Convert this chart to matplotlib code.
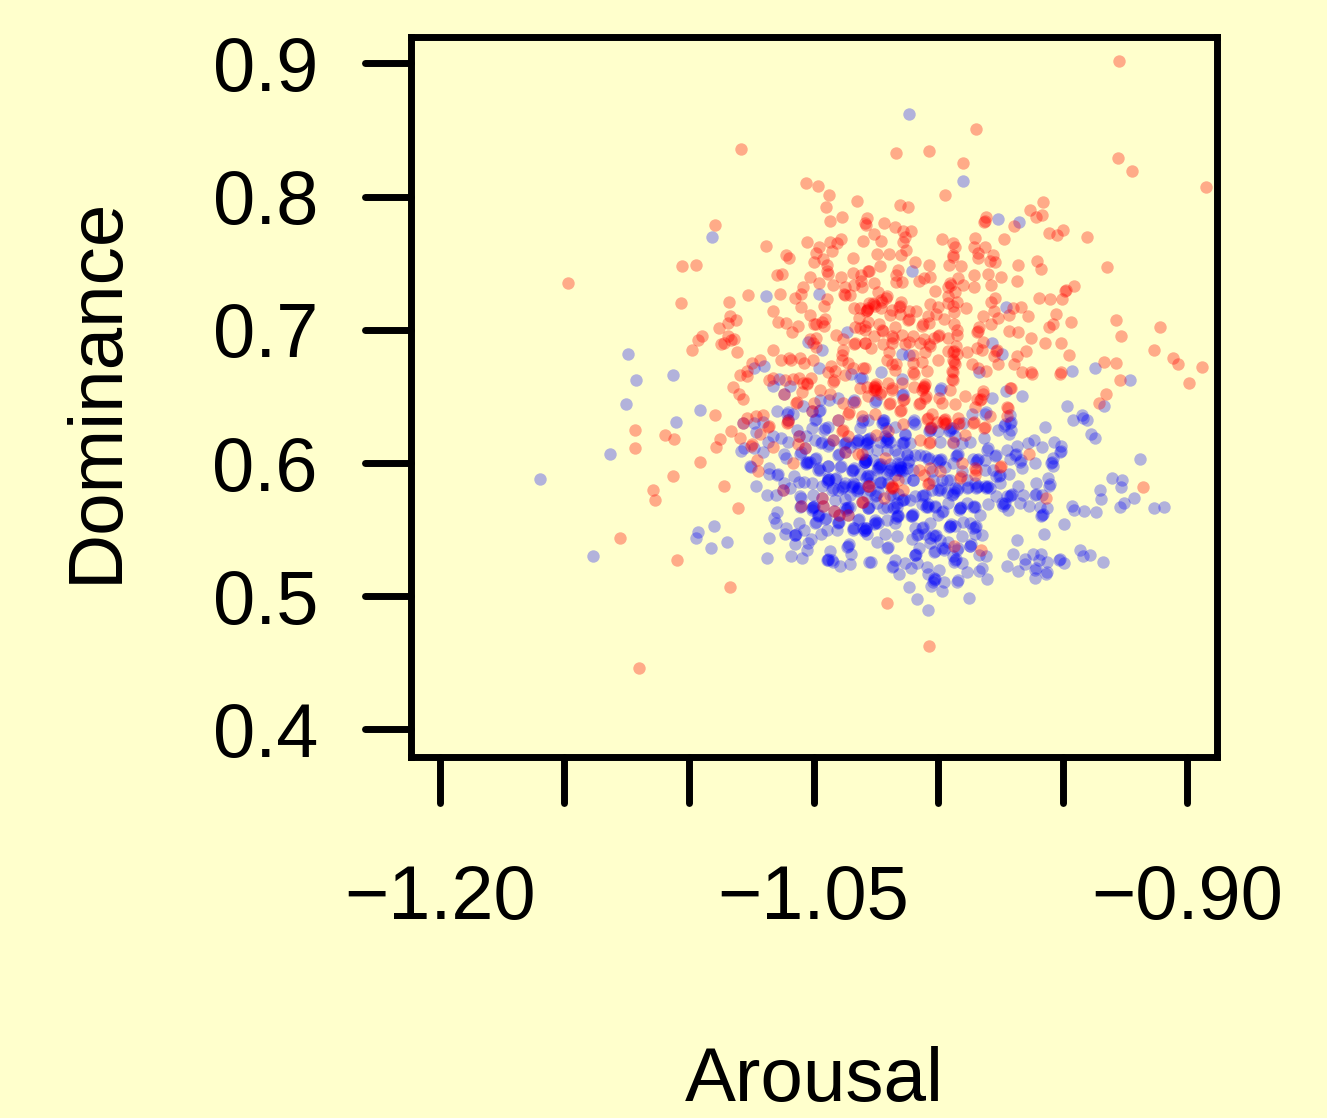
import numpy as np
import matplotlib
matplotlib.use("Agg")
import matplotlib.pyplot as plt
from matplotlib.markers import MarkerStyle, TICKDOWN, TICKLEFT

plt.rcParams['font.family'] = ['Liberation Sans', 'DejaVu Sans']

x_ticks = [-1.20, -1.15, -1.10, -1.05, -1.00, -0.95, -0.90]
x_labels = ['\u22121.20', '', '', '\u22121.05', '', '', '\u22120.90']
y_ticks = [0.4, 0.5, 0.6, 0.7, 0.8, 0.9]
y_labels = ['0.4', '0.5', '0.6', '0.7', '0.8', '0.9']

# (arousal, dominance)
red_points = [
    (-1.079,.836),(-1.053,.810),(-1.0481,.808),(-1.0438,.801),(-1.0327,.797),(-1.0449,.792),(-1.0386,.785),
    (-1.0434,.782),(-1.0287,.784),(-1.029,.779),(-1.0293,.780),(-1.0897,.779),(-1.069,.763),(-1.0525,.766),
    (-1.0434,.766),(-1.0391,.768),(-1.0407,.765),(-1.0302,.767),(-1.0477,.762),(-1.0488,.758),(-1.0427,.759),
    (-1.0611,.756),(-1.06,.754),(-1.0342,.754),(-1.0496,.751),(-1.0461,.753),(-1.0445,.749),(-1.0447,.744),
    (-1.0441,.742),(-1.1027,.748),(-1.0972,.749),(-1.1486,.735),(-1.0628,.742),(-1.0647,.741),(-1.0514,.74),
    (-1.0388,.74),(-1.0343,.743),(-1.0308,.741),(-1.028,.744),(-1.0476,.735),(-1.0421,.734),(-1.0336,.734),
    (-1.0311,.737),(-1.0304,.732),(-1.0541,.732),(-1.055,.727),(-1.0576,.724),(-1.0635,.727),(-1.0763,.726),
    (-1.0372,.732),(-1.0376,.727),(-1.0372,.726),(-1.0354,.726),(-1.0445,.723),(-1.084,.721),(-1.103,.72),
    (-1.0459,.718),(-1.0552,.717),(-1.0663,.714),(-1.0514,.711),(-1.0336,.716),(-1.0287,.715),(-1.0283,.716),
    (-1.029,.714),(-1.0314,.716),(-1.0276,.72),(-1.0836,.71),(-1.0812,.707),(-1.0844,.705),(-1.0643,.706),
    (-1.0609,.705),(-1.0561,.703),(-1.0585,.698),(-1.0878,.701),(-1.0454,.708),(-1.0467,.706),(-1.0498,.704),
    (-1.0458,.703),(-1.049,.704),(-1.0316,.709),(-1.0334,.702),(-1.0314,.701),(-1.0293,.703),(-1.0293,.7),
    (-1.0947,.695),(-1.0963,.692),(-1.0986,.685),(-1.0842,.695),(-1.0833,.692),(-1.082,.693),(-1.0873,.689),
    (-1.0858,.69),(-1.0808,.683),(-1.0662,.685),(-1.041,.696),(-1.0383,.693),(-1.0336,.689),(-1.0332,.690),
    (-1.0293,.69),(-1.0488,.694),(-1.0514,.693),(-1.0504,.69),(-1.0488,.687),(-1.0383,.685),(-1.0387,.681),
    (-1.0387,.677),(-1.036,.675),(-1.0631,.677),(-1.0597,.679),(-1.0592,.677),(-1.0555,.679),(-1.0537,.675),
    (-1.0504,.677),(-1.0746,.675),(-1.0715,.677),(-1.0765,.669),(-1.0795,.666),(-1.0765,.665),(-1.0429,.673),
    (-1.0441,.668),(-1.0414,.669),(-1.0374,.666),(-1.034,.671),(-1.03,.671),(-1.0512,.664),(-1.0557,.664),
    (-1.0584,.663),(-1.0615,.662),(-1.0664,.664),(-1.0679,.662),(-1.0528,.659),(-1.0525,.660),(-1.0544,.66),
    (-1.0419,.662),(-1.0314,.656),(-1.0825,.657),
    (-.9274,.902),(-.9848,.851),(-1.0168,.833),(-1.0035,.834),(-.9901,.825),(-.9278,.829),(-.9221,.819),
    (-.8923,.807),(-.9972,.801),(-1.0151,.794),(-1.012,.792),(-.9577,.796),(-.963,.79),(-.9605,.785),
    (-.9581,.786),(-.9807,.785),(-.9811,.782),(-.9815,.781),(-.9696,.778),(-1.0218,.78),(-1.0174,.777),
    (-1.0142,.774),(-1.0108,.774),(-1.0257,.772),(-1.0131,.77),(-1.023,.767),(-1.0142,.766),(-.9984,.768),
    (-.9941,.765),(-.9931,.762),(-.985,.769),(-.9855,.762),(-.9811,.762),(-.9736,.768),(-.9555,.773),
    (-.9522,.771),(-.9499,.775),(-.94,.77),(-1.0127,.76),(-1.0246,.757),(-1.0197,.757),(-1.015,.756),
    (-.9938,.756),(-.9941,.755),(-.9838,.758),(-.9839,.754),(-.978,.756),(-.9791,.752),(-.9771,.751),
    (-1.0091,.751),(-1.0037,.749),(-.9954,.749),(-1.0235,.748),(-.9909,.748),(-.9677,.749),(-.9602,.752),
    (-.9586,.746),(-.932,.747),(-1.0277,.744),(-1.0159,.745),(-1.0168,.741),(-.9855,.741),(-.9798,.742),
    (-.9749,.74),(-1.0031,.74),(-1.0055,.739),(-1.0077,.737),(-.9919,.739),(-.9684,.737),(-1.0168,.736),
    (-1.0143,.736),(-1.0259,.735),(-.9952,.735),(-.9948,.734),(-.9958,.732),(-.9901,.734),(-.9855,.732),
    (-.9788,.734),(-.9455,.733),(-.949,.729),(-.9486,.730),(-1.0012,.729),(-.9931,.728),(-1.0241,.728),
    (-1.0206,.725),(-1.021,.724),(-.9503,.723),(-.9594,.724),(-.9549,.723),(-.9958,.725),(-.9773,.724),
    (-1.023,.722),(-1.0226,.721),(-1.0257,.719),(-1.0253,.718),(-1.0261,.72),(-1.0286,.715),(-1.0148,.721),
    (-.9925,.721),(-.9962,.72),(-.9788,.721),(-1.0155,.717),(-1.0151,.718),(-1.0031,.719),(-1.0002,.717),
    (-.9938,.718),(-.9889,.716),(-.9666,.717),(-.97,.716),(-.9777,.714),(-1.023,.716),(-1.0183,.715),
    (-1.0118,.714),(-1.0088,.714),(-1.0152,.712),(-1.0192,.711),(-.9934,.713),(-1.0008,.712),(-1.0039,.71),
    (-.982,.71),(-.9717,.711),(-.9761,.709),(-.964,.71),(-.9526,.712),(-1.0119,.707),(-1.0116,.708),
    (-1.028,.706),(-.9978,.708),(-1.0036,.705),(-1.0065,.703),(-1.0061,.704),(-.9788,.704),(-.9467,.706),
    (-.9285,.707),(-.9107,.702),(-.9555,.702),(-.9539,.704),(-1.0239,.704),(-1.0172,.702),(-.9934,.704),
    (-.9834,.702),(-.9842,.698),(-.9838,.699),(-.9925,.7),(-.9925,.696),(-.9717,.699),(-.9678,.698),
    (-1.0226,.7),(-1.0222,.699),(-1.0143,.696),(-1.0099,.695),(-1.0183,.695),(-1.0179,.694),(-1.0259,.695),
    (-.9958,.694),(-.9998,.696),(-1.0002,.695),(-1.0016,.694),(-1.0056,.693),(-.9266,.695),(-.9625,.694),
    (-1.0294,.69),(-1.0269,.686),(-1.0219,.689),(-1.0115,.691),(-1.0132,.689),(-1.0072,.69),(-1.0035,.689),
    (-1.0031,.688),(-1.0186,.69),(-.982,.691),(-.957,.69),(-.9507,.69),(-1.0195,.683),(-1.0052,.683),
    (-.9927,.688),(-.9958,.684),(-.9941,.683),(-.9937,.684),(-.9925,.682),(-.9885,.683),(-.9844,.686),
    (-.9824,.685),(-.9768,.684),(-.9764,.685),(-.9645,.684),(-.9132,.685),(-.9476,.681),(-.9681,.68),
    (-.9775,.68),(-1.0099,.681),(-1.0206,.677),(-1.0065,.676),(-1.0002,.677),(-.9938,.677),(-.9934,.676),
    (-1.0168,.674),(-1.0186,.674),(-1.0099,.675),(-.9931,.674),(-.9862,.674),(-.9694,.674),(-.976,.674),
    (-.9333,.676),(-.9286,.675),(-.9055,.679),(-.9037,.674),(-.8942,.672),(-1.0172,.67),(-1.0099,.668),
    (-1.0095,.667),(-1.0045,.669),(-.9945,.669),(-.9941,.668),(-.984,.671),(-.9808,.669),(-.9664,.668),
    (-.9626,.668),(-.9623,.667),(-.951,.667),(-.9508,.668),(-1.0293,.671),(-1.0199,.66),(-.9269,.662),
    (-.8994,.66),(-1.0146,.66),(-1.0253,.658),(-1.0249,.659),(-1.0257,.657),(-1.0056,.658),(-1.0052,.659),
    (-1.0096,.657),(-.9945,.663),(-.9941,.662),(-.9711,.656),(-1.0183,.656),(-.9818,.654),
    (-1.0798,.652),(-1.0783,.648),(-1.0896,.636),(-1.1217,.625),(-1.1218,.611),(-1.1097,.621),(-1.1061,.618),
    (-1.0833,.624),(-1.0874,.618),(-1.0891,.612),(-1.0795,.619),(-1.0955,.601),(-1.1063,.59),(-1.1144,.58),
    (-1.1138,.572),(-1.0858,.583),(-1.0802,.566),(-1.1277,.544),(-1.1048,.527),(-1.0836,.507),(-1.1201,.446),
    (-1.0769,.634),(-1.0731,.635),(-1.0704,.636),(-1.0715,.622),(-1.0682,.627),(-1.0678,.628),(-1.0749,.613),
    (-1.0745,.614),(-1.0726,.602),(-1.0723,.594),(-1.0662,.612),(-1.0581,.6),(-1.0561,.614),(-1.0548,.653),
    (-1.0473,.655),(-1.0434,.652),(-1.042,.661),(-1.0571,.645),(-1.0567,.646),(-1.0498,.645),(-1.0383,.645),
    (-1.036,.637),(-1.0356,.638),(-1.0333,.646),(-1.0608,.63),(-1.0604,.631),(-1.0387,.624),(-1.0383,.625),
    (-1.036,.62),(-1.032,.607),(-1.0617,.652),(-1.0508,.639),(-1.0782,.63),(-1.0601,.632),(-1.0557,.62),
    (-1.0534,.611),(-1.0624,.58),(-1.055,.568),(-1.0467,.574),(-1.0463,.568),(-1.0417,.564),(-1.0398,.561),
    (-1.0362,.561),(-1.0304,.571),(-1.0374,.608),(-1.028,.583),(-1.0421,.617),(-1.04,.632),
    (-.9709,.656),(-.982,.652),(-.9844,.648),(-.9831,.647),(-.9827,.648),(-.9891,.65),(-.9931,.644),(-.9985,.645),
    (-.9998,.649),(-.9325,.652),(-.9354,.645),(-1.0036,.463),(-1.0206,.495),(-.9566,.574),(-.9636,.607),
    (-.9176,.582),(-.9724,.635),(-.9724,.642),(-.972,.641),(-.9851,.642),(-.9791,.635),(-.9952,.655),(-1.0059,.656),
    (-1.0055,.657),(-1.0063,.655),(-1.0253,.656),(-1.0249,.655),(-1.0257,.655),(-1.0233,.652),(-1.023,.653),
    (-1.0286,.657),(-1.0186,.655),(-1.028,.65),(-1.0139,.647),(-1.0135,.648),(-1.0052,.649),(-1.0048,.65),
    (-1.0025,.637),(-1.0045,.633),(-1.0041,.634),(-.9978,.632),(-.9974,.633),(-.9982,.631),(-.9972,.629),
    (-.9968,.63),(-1.0005,.631),(-.9918,.634),(-.9918,.629),(-.9914,.63),(-.9858,.63),(-.9854,.631),(-.9817,.626),
    (-.9813,.627),(-1.0032,.626),(-1.0028,.627),(-1.0139,.629),(-1.0253,.637),(-1.0306,.635),(-1.0195,.644),
    (-1.0191,.645),(-1.0152,.639),(-1.0148,.64),(-1.0075,.644),(-1.0071,.645),(-1.0249,.621),(-1.0199,.624),
    (-1.0038,.615),(-1.0034,.616),(-1.0072,.617),(-.9938,.616),(-.9891,.621),(-1.0213,.604),(-1.0306,.607),
    (-.9905,.6),(-.9751,.597),(-.9747,.598),(-.9851,.596),(-.9847,.595),(-.9851,.591),(-.9911,.589),(-.9907,.59),
    (-1.0032,.596),(-.9994,.594),(-1.0075,.595),(-1.0056,.591),(-1.0159,.587),(-1.0186,.582),(-1.0183,.583),
    (-1.019,.581),(-1.0182,.581),(-1.0139,.58),(-1.0276,.583),(-1.0039,.584),(-1.0035,.585),(-1.0217,.574),
    (-1.0302,.571),(-.9935,.538),(-.9828,.535),
]

blue_points = [
    (-1.0907,.77),(-1.0692,.725),(-1.0477,.727),(-1.0366,.698),(-1.0524,.691),(-1.0465,.685),(-1.1245,.682),
    (-1.1213,.662),(-1.1065,.666),(-1.0737,.671),(-1.0698,.673),(-1.0477,.671),(-1.0637,.663),(-1.0663,.658),
    (-1.0595,.658),(-1.0351,.667),(-1.0314,.664),
    (-1.0116,.862),(-.9899,.812),(-.976,.783),(-.9676,.781),(-1.0106,.744),(-.9729,.717),(-.9783,.69),
    (-.9744,.682),(-1.0146,.682),(-1.0115,.681),(-.9834,.668),(-.9463,.669),(-.9371,.671),(-.9231,.662),
    (-1.0143,.663),(-1.023,.668),(-1.0306,.664),
    (-1.1253,.644),(-1.0955,.64),(-1.1052,.631),(-1.1318,.607),(-1.1599,.588),(-1.0731,.583),(-1.0687,.576),
    (-1.0651,.576),(-1.0617,.585),(-1.0595,.581),(-1.058,.59),(-1.0557,.586),(-1.0538,.586),(-1.0508,.585),
    (-1.0504,.576),(-1.0555,.575),(-1.0551,.574),(-1.0555,.567),(-1.0648,.563),(-1.0659,.559),(-1.065,.555),
    (-1.0612,.551),(-1.0615,.547),(-1.0575,.546),(-1.0571,.547),(-1.0537,.55),(-1.0557,.555),(-1.0575,.539),
    (-1.0512,.543),(-1.0521,.54),(-1.0528,.535),(-1.0548,.529),(-1.0592,.53),(-1.0686,.529),(-1.0679,.544),
    (-1.09,.553),(-1.0964,.548),(-1.0972,.544),(-1.0913,.536),(-1.0849,.541),(-1.1384,.53),(-1.0677,.596),
    (-1.0677,.592),(-1.0646,.591),(-1.0642,.592),(-1.0755,.598),(-1.0751,.597),(-1.0791,.609),(-1.0778,.611),
    (-1.0738,.611),(-1.0702,.608),(-1.0619,.607),(-1.0612,.604),(-1.0662,.62),(-1.0682,.616),(-1.0601,.616),
    (-1.0631,.619),(-1.0729,.623),(-1.0738,.63),(-1.0702,.631),(-1.0648,.639),(-1.0608,.637),(-1.0604,.638),
    (-1.0581,.637),(-1.0541,.643),(-1.0565,.625),(-1.053,.62),(-1.0508,.626),(-1.0494,.632),(-1.049,.633),
    (-1.0477,.639),(-1.0473,.64),(-1.0474,.647),(-1.0438,.647),(-1.0403,.649),(-1.034,.646),(-1.0336,.647),
    (-1.0441,.627),(-1.0458,.625),(-1.0454,.626),(-1.0494,.617),(-1.0468,.615),(-1.0464,.616),(-1.0441,.613),
    (-1.0437,.614),(-1.0555,.607),(-1.0551,.608),(-1.0528,.6),(-1.0524,.601),(-1.0532,.599),(-1.0494,.603),
    (-1.049,.604),(-1.0481,.595),(-1.0477,.596),(-1.0441,.598),(-1.0394,.597),(-1.039,.598),(-1.0401,.606),
    (-1.0397,.607),(-1.034,.595),(-1.0336,.596),(-1.0344,.594),(-1.0374,.615),(-1.037,.616),(-1.0378,.614),
    (-1.0327,.616),(-1.0323,.617),(-1.0331,.615),(-1.0293,.601),(-1.0289,.602),(-1.0297,.6),(-1.0293,.603),
    (-1.0287,.617),(-1.0283,.618),(-1.0441,.587),(-1.0437,.588),(-1.0445,.586),(-1.0441,.589),(-1.0414,.588),
    (-1.041,.589),(-1.0467,.583),(-1.0427,.58),(-1.0423,.581),(-1.038,.582),(-1.0376,.583),(-1.0384,.581),
    (-1.034,.583),(-1.0336,.584),(-1.0344,.582),(-1.032,.58),(-1.0316,.581),(-1.0324,.579),(-1.0287,.59),
    (-1.0283,.591),(-1.0291,.589),(-1.0414,.572),(-1.0374,.573),(-1.0501,.567),(-1.0497,.568),(-1.0505,.566),
    (-1.0481,.56),(-1.0477,.561),(-1.0454,.558),(-1.045,.559),(-1.0494,.555),(-1.049,.556),(-1.0468,.547),
    (-1.0447,.55),(-1.0407,.55),(-1.0401,.555),(-1.0397,.556),(-1.0367,.566),(-1.0363,.567),(-1.0371,.565),
    (-1.034,.55),(-1.0336,.551),(-1.032,.557),(-1.0316,.558),(-1.0293,.55),(-1.0289,.551),(-1.0297,.549),
    (-1.0363,.538),(-1.0359,.539),(-1.0348,.532),(-1.0433,.534),(-1.0446,.527),(-1.0442,.528),(-1.0421,.526),
    (-1.0395,.523),(-1.0352,.524),(-1.0276,.526),(-1.0314,.626),(-1.03,.632),
    (-1.0617,.652),(-1.0508,.639),(-1.0782,.63),(-1.0601,.632),(-1.0557,.62),(-1.0534,.611),(-1.0624,.58),
    (-1.055,.568),(-1.0467,.574),(-1.0463,.568),(-1.0417,.564),(-1.0398,.561),(-1.0362,.561),(-1.0304,.571),
    (-1.0374,.608),(-1.028,.583),(-1.0421,.617),(-1.04,.632),
    (-.9662,.65),(-.9784,.649),(-.9728,.654),(-.9483,.643),(-.9332,.643),(-.9459,.632),(-.9424,.636),
    (-.94,.632),(-.9416,.634),(-.957,.627),(-.9384,.622),(-.9371,.619),(-.9189,.603),(-.9301,.589),
    (-.9261,.587),(-.9265,.582),(-.9349,.58),(-.9344,.573),(-.9213,.574),(-.9255,.57),(-.9269,.567),
    (-.9131,.566),(-.9092,.567),(-.9463,.568),(-.9454,.565),(-.9415,.564),(-.9367,.563),(-.9495,.554),
    (-.9575,.547),(-.9682,.542),(-.97,.532),(-.962,.532),(-.9586,.532),(-.9594,.527),(-.9562,.526),
    (-.9649,.528),(-.9652,.524),(-.9725,.523),(-.9678,.519),(-.961,.52),(-.9606,.521),(-.9612,.514),
    (-.9566,.517),(-.9562,.518),(-.9514,.527),(-.951,.528),(-.9494,.525),(-.9431,.535),(-.942,.53),
    (-.9388,.531),(-.9336,.526),(-.9533,.616),(-.9506,.613),(-.9512,.608),(-.9508,.609),(-.9581,.612),
    (-.9539,.604),(-.9547,.6),(-.9543,.601),(-.9537,.598),(-.9611,.6),(-.9613,.617),(-.964,.615),
    (-.9681,.613),(-.9723,.61),(-.9691,.606),(-.9687,.607),(-.9711,.603),(-.9671,.601),(-.9667,.602),
    (-.9661,.596),(-.9559,.589),(-.9555,.583),(-.9551,.584),(-.9606,.585),(-.968,.583),(-.9657,.576),
    (-.9707,.576),(-.9703,.577),(-.9724,.575),(-.961,.576),(-.9606,.577),(-.9583,.576),(-.9737,.569),
    (-.9733,.57),(-.9741,.568),(-.972,.565),(-.967,.57),(-.9634,.568),(-.959,.567),(-.9562,.566),
    (-.9583,.561),(-.9579,.562),(-.9587,.56),(-.9717,.592),(-.9757,.59),(-.9753,.591),(-.9767,.59),
    (-.9753,.585),(-.9767,.575),(-.9804,.582),(-.98,.583),(-.9808,.581),(-.98,.569),(-.9831,.561),
    (-.9824,.546),(-.9851,.552),(-.9847,.553),(-.9858,.567),(-.9854,.568),(-.9851,.547),(-.9871,.538),
    (-.9867,.539),(-.9807,.53),(-.9835,.531),(-.9824,.521),(-.9834,.519),(-.9804,.513),(-.9882,.518),
    (-.9877,.499),(-.9922,.511),(-.9918,.512),(-.9905,.525),(-.9931,.527),(-.9927,.528),(-.9935,.526),
    (-.9925,.535),(-.9921,.536),(-.9905,.545),(-.9952,.553),(-.9948,.554),(-.9956,.552),(-.9911,.566),
    (-.9907,.567),(-.9915,.565),(-.9938,.577),(-.9934,.578),(-.9942,.576),(-.9985,.563),(-.9981,.564),
    (-1.0012,.568),(-1.0045,.568),(-1.0041,.569),(-1.0049,.567),(-1.0065,.575),(-1.0061,.576),(-.9992,.58),
    (-.9988,.581),(-.9885,.581),(-.9881,.582),(-.9844,.582),(-.984,.583),(-.9848,.581),(-.9925,.58),
    (-.9921,.581),(-.9992,.602),(-.9988,.603),(-.9996,.601),(-1.0039,.603),(-1.0035,.604),(-.9925,.606),
    (-.9921,.607),(-.9929,.605),(-.9844,.602),(-.984,.603),(-.9848,.601),(-.9811,.595),(-.9771,.605),
    (-.9767,.606),(-.9804,.61),(-.98,.611),(-.9817,.619),(-.9871,.616),(-.9938,.615),(-.9992,.616),
    (-1.0139,.615),(-1.0135,.616),(-1.0206,.617),(-1.0202,.618),(-1.021,.616),(-1.0206,.619),(-1.0219,.631),
    (-1.0215,.632),(-1.0223,.63),(-1.028,.632),(-1.0286,.615),(-1.0282,.616),(-1.029,.614),(-1.0293,.601),
    (-1.0289,.602),(-1.0239,.597),(-1.0235,.598),(-1.0243,.596),(-1.0239,.599),(-1.0152,.596),(-1.0148,.597),
    (-1.0156,.595),(-1.0152,.598),(-1.0148,.595),(-1.0119,.601),(-1.0115,.602),(-1.0193,.595),(-1.0189,.596),
    (-1.0197,.594),(-1.0099,.587),(-1.0233,.585),(-1.0229,.586),(-1.0276,.585),(-1.0253,.575),(-1.0249,.576),
    (-1.028,.566),(-1.0276,.567),(-1.0219,.566),(-1.0179,.566),(-1.0175,.567),(-1.0139,.572),(-1.0135,.573),
    (-1.0105,.561),(-1.0101,.562),(-1.0109,.56),(-1.0166,.56),(-1.0162,.561),(-1.017,.559),(-1.0253,.555),
    (-1.0249,.556),(-1.0257,.554),(-1.0293,.55),(-1.0289,.551),(-1.0213,.547),(-1.0166,.545),(-1.0246,.541),
    (-1.0206,.536),(-1.0202,.537),(-1.0085,.546),(-1.0081,.547),(-1.0065,.551),(-1.0061,.552),(-1.0032,.555),
    (-1.0012,.545),(-1.0008,.546),(-1.0105,.543),(-1.0075,.536),(-1.0092,.531),(-1.0088,.532),(-1.0018,.533),
    (-1.0014,.534),(-.9978,.535),(-.9974,.536),(-1.0132,.525),(-1.0172,.527),(-1.0186,.522),(-1.0182,.523),
    (-1.0269,.526),(-1.0156,.517),(-1.0108,.521),(-1.0083,.525),(-1.0045,.522),(-1.0115,.507),(-1.0085,.498),
    (-1.004,.49),(-1.0016,.512),(-1.0012,.513),(-1.002,.511),(-1.0016,.514),(-1.0028,.508),(-.9984,.504),
    (-.9978,.511),(-.9998,.52),(-1.0039,.517),(-.9737,.628),(-.9733,.629),(-.9711,.63),(-.9707,.631),
    (-.9707,.625),(-.976,.625),(-.9715,.622),(-.9711,.636),(-.9811,.637),(-.9807,.638),(-.9862,.637),
    (-.9898,.63),(-.9952,.625),(-.9948,.626),(-.9956,.624),(-1.0032,.625),(-1.0028,.626),(-1.0036,.624),
    (-1.0099,.631),(-1.0095,.632),(-1.0146,.651),(-1.0142,.652),(-1.0253,.646),(-1.0249,.647),(-.9992,.655),
    (-.9988,.656),(-1.0132,.622),(-1.0306,.631),(-1.0286,.575),(-1.0126,.607),(-1.0072,.606),(-.9965,.587),
    (-1.0025,.58),(-1.0179,.575),(-.9898,.556),(-.9871,.555),(-1.0032,.544),
]

# second pass over the dense middle of the blue cloud
blue_core_points = [
    (-1.022,.632),(-1.0207,.626),(-1.0173,.627),(-1.0213,.62),(-1.0193,.616),(-1.0233,.616),(-1.0273,.619),
    (-1.032,.617),(-1.0354,.612),(-1.0287,.61),(-1.0247,.61),(-1.0206,.61),(-1.0173,.61),(-1.0293,.601),
    (-1.026,.602),(-1.0227,.599),(-1.0193,.599),(-1.016,.6),(-1.0247,.595),(-1.0206,.592),(-1.0173,.591),
    (-1.0273,.59),(-1.0233,.586),(-1.02,.585),(-1.0314,.592),(-1.0347,.595),(-1.034,.585),(-1.0374,.585),
    (-1.0401,.58),(-1.0441,.587),(-1.0474,.595),(-1.0514,.601),(-1.053,.601),(-1.0441,.598),(-1.0354,.576),
    (-1.032,.581),(-1.0273,.58),(-1.024,.578),(-1.0193,.576),(-1.016,.577),(-1.0354,.567),(-1.028,.566),
    (-1.0247,.57),(-1.0206,.567),(-1.0166,.567),(-1.0374,.566),(-1.0501,.567),(-1.0481,.561),(-1.0508,.565),
    (-1.0401,.556),(-1.034,.551),(-1.03,.551),(-1.0287,.547),(-1.0253,.557),(-1.024,.555),(-1.0206,.557),
    (-1.0173,.555),(-1.0575,.546),(-1.0367,.537),(-1.0427,.527),(-1.0441,.527),
    (-1.0146,.615),(-1.0113,.615),(-1.016,.607),(-1.0126,.606),(-1.0093,.606),(-1.0052,.605),(-1.0006,.602),
    (-1.0153,.599),(-1.0126,.596),(-1.0166,.595),(-1.0146,.594),(-1.0099,.595),(-1.0133,.589),(-1.0099,.587),
    (-1.0026,.594),(-.9972,.597),(-.9939,.6),(-.9905,.594),(-.9952,.587),(-.9986,.587),(-1.0019,.587),
    (-.9885,.587),(-.9852,.585),(-.9812,.583),(-.9792,.581),(-.9932,.581),(-.9966,.578),(-1.0,.58),
    (-1.0052,.576),(-1.0093,.575),(-1.0146,.572),(-1.0113,.572),(-1.0166,.57),(-1.0066,.569),(-1.0039,.567),
    (-1.0012,.567),(-.9959,.57),(-.9912,.566),(-.9885,.57),(-.9852,.567),(-1.016,.56),(-1.0106,.56),
    (-.9999,.561),(-.9952,.553),(-.9932,.553),(-.9858,.551),(-1.0019,.546),(-1.0052,.547),(-1.0093,.551),
    (-.9992,.542),(-.9959,.541),(-.9939,.53),(-1.0093,.531),(-.9932,.62),(-.9905,.615),(-.9858,.603),
    (-.9812,.602),(-.9778,.595),(-.9939,.626),(-1.0,.624),(-.9745,.57),(-.9711,.575),(-1.0093,.629),
    (-1.0133,.621),(-1.0032,.54),(-.9872,.538),(-.9986,.536),
]

red_x, red_y = np.array(red_points).T
blue_x, blue_y = np.array(blue_points + blue_core_points).T

fig = plt.figure(figsize=(13.27, 11.18), dpi=100, facecolor='#FFFFCC')
ax = fig.add_axes([411 / 1327, 1 - 757 / 1118, 806 / 1327, 720 / 1118], facecolor='#FFFFCC')

ax.scatter(blue_x, blue_y, s=80, color='#0000FF', alpha=0.3, linewidths=0, zorder=2)
ax.scatter(red_x, red_y, s=80, color='#FF0000', alpha=0.33, linewidths=0, zorder=3)

ax.set_xlim(-1.2116, -0.8880)
ax.set_ylim(0.3793, 0.9198)
ax.set_xticks(x_ticks)
ax.set_xticklabels(x_labels)
ax.set_yticks(y_ticks)
ax.set_yticklabels(y_labels)
ax.tick_params(axis='x', length=33, width=5, labelsize=54.5, pad=44)
ax.tick_params(axis='y', length=33, width=5, labelsize=54.5, pad=34)

for t in ax.xaxis.get_major_ticks():
    t.tick1line.set_marker(MarkerStyle(TICKDOWN, capstyle='round'))
for t in ax.yaxis.get_major_ticks():
    t.tick1line.set_marker(MarkerStyle(TICKLEFT, capstyle='round'))

for s in ax.spines.values():
    s.set_linewidth(5)

ax.set_xlabel('Arousal', fontsize=55, va='center')
ax.xaxis.set_label_coords(0.5, (757 - 1082) / 720)
ax.set_ylabel('Dominance', fontsize=55, va='center')
ax.yaxis.set_label_coords((97 - 411) / 806, 0.51)

fig.savefig('out.png', dpi=100, facecolor=fig.get_facecolor())
